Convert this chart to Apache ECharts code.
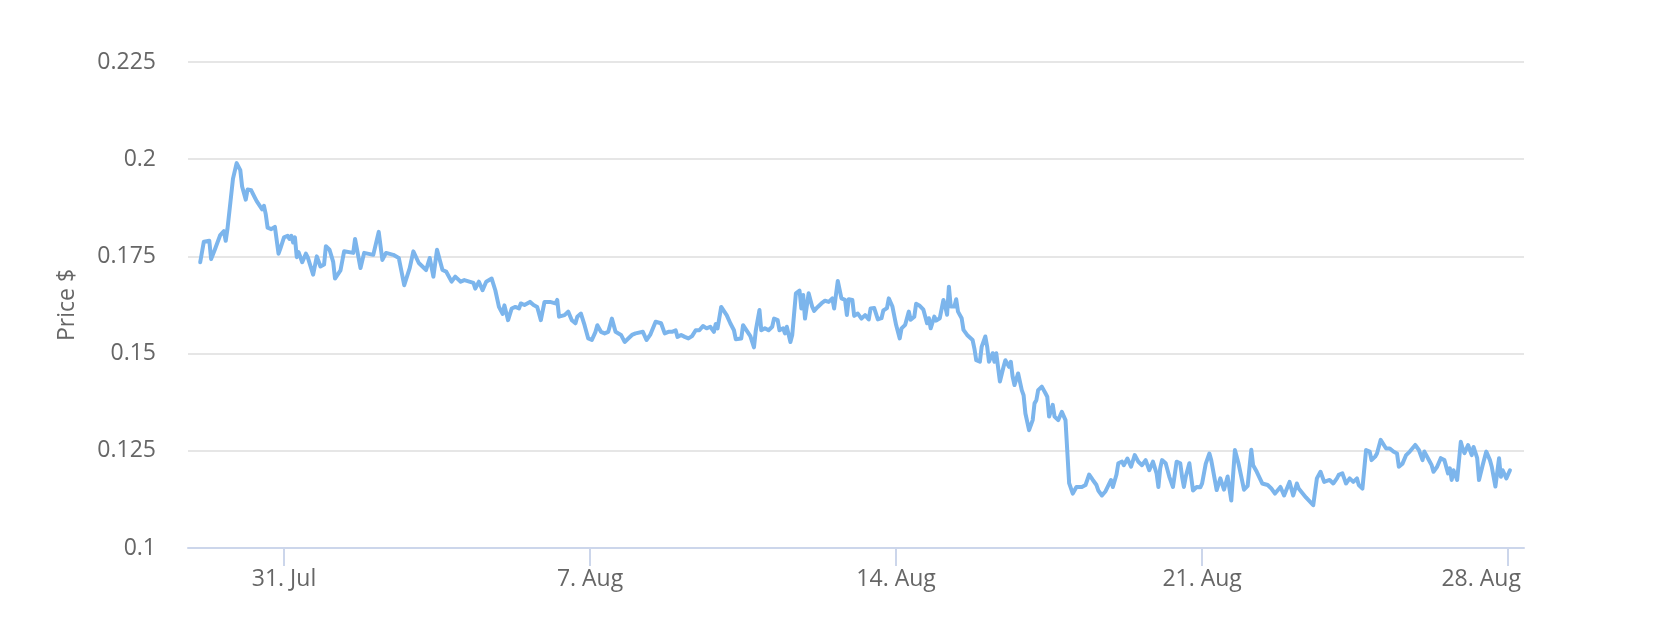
<!DOCTYPE html>
<html lang="en">
<head>
  <meta charset="UTF-8">
  <title>Price $</title>
  <script src="https://cdn.jsdelivr.net/npm/echarts@6/dist/echarts.min.js"></script>
  <style>
    html, body {
      margin: 0;
      padding: 0;
      background: #ffffff;
    }
    #chart {
      width: 1655px;
      height: 636px;
    }
  </style>
</head>
<body>
<div id="chart"></div>
<script>
  // hours after 29 Jul 00:00
  var hours = [
    2, 4, 7, 8, 10, 13, 15, 16, 17, 18, 20, 21, 22, 24, 25, 27, 28, 30, 32, 33, 34, 36, 37, 38, 39, 41, 43, 45, 46,
    48, 50, 51, 52, 53, 54, 55, 56, 58, 60, 61, 64, 66, 68, 70, 71, 73, 75, 76, 79, 81, 86, 87, 90, 92, 97,
    100, 102, 104, 108, 111, 114, 117, 119, 122, 124, 126, 128, 130, 132, 135, 137, 140, 142, 145, 147,
    152, 153, 155, 157, 159, 162, 164, 166, 168, 169, 171, 173, 175, 177, 178, 180, 183, 185, 187, 189,
    191, 194, 197, 198, 199, 202, 204, 206, 208, 209, 211, 213, 215, 217, 219, 220, 222, 224, 226, 228,
    230, 231, 233, 235, 237, 239, 241, 245, 247, 249, 252, 253, 255, 257, 259, 261, 263, 264, 266, 268,
    270, 272, 274, 276, 278, 280, 282, 284, 285, 286, 288, 289, 291, 293, 295, 296, 297, 299, 300, 301,
    304, 306, 307, 309, 310, 312, 314, 316, 317, 319, 320, 322, 323, 324, 326, 327, 329, 331, 332, 333,
    334, 336, 338, 339, 341, 343, 345, 347, 349, 350, 352, 354, 356, 357, 358, 360, 361, 363, 365, 367,
    369, 370, 371, 372, 374, 376, 377, 379, 380, 381, 382, 384, 386, 387, 389, 391, 392, 394, 395, 397,
    399, 401, 402, 403, 405, 406, 408, 410, 411, 412, 413, 414, 416, 417, 418, 419, 420, 421, 422, 423,
    424, 426, 427, 428, 430, 431, 433, 434, 435, 437, 438, 439, 441, 442, 443, 444, 446, 447, 448, 449,
    451, 453, 454, 455, 457, 459, 460, 461, 462, 464, 466, 467, 468, 470, 471, 473, 475, 476, 477, 479,
    481, 483, 486, 488, 490, 492, 494, 495, 497, 499, 502, 503, 505, 506, 508, 509, 511, 513, 515, 517,
    519, 521, 523, 525, 527, 528, 529, 530, 532, 534, 536, 538, 540, 541, 542, 543, 545, 547, 549, 551,
    552, 554, 556, 557, 558, 560, 562, 563, 564, 566, 568, 570, 572, 573, 575, 577, 579, 580, 582, 583,
    585, 588, 590, 592, 595, 597, 600, 602, 604, 605, 609, 613, 615, 617, 619, 622, 624, 626, 627, 629,
    630, 631, 633, 635, 637, 638, 640, 642, 644, 645, 647, 648, 650, 651, 653, 655, 657, 659, 660, 662,
    664, 666, 667, 669, 671, 673, 674, 677, 678, 679, 681, 683, 685, 687, 688, 689, 690, 692, 694, 695,
    696, 698, 700, 701, 703, 704, 706, 708, 710, 711, 713, 715, 716, 717, 719, 721
  ];

  var prices = [
    0.1735, 0.1788, 0.1790, 0.1743, 0.1767, 0.1805, 0.1815, 0.1790, 0.1822, 0.1817, 0.1950, 0.1955, 0.1990, 0.1972, 0.1930, 0.1896, 0.1922, 0.1920, 0.1901, 0.1892, 0.1897, 0.1871, 0.1880, 0.1858, 0.1824, 0.1820, 0.1826, 0.1757, 0.1770,
    0.1799, 0.1803, 0.1795, 0.1803, 0.1786, 0.1799, 0.1748, 0.1761, 0.1735, 0.1757, 0.1748, 0.1703, 0.1750, 0.1724, 0.1729, 0.1776, 0.1767, 0.1736, 0.1693, 0.1714, 0.1763, 0.1759, 0.1795, 0.1720, 0.1759, 0.1754,
    0.1813, 0.1741, 0.1759, 0.1754, 0.1746, 0.1676, 0.1720, 0.1763, 0.1733, 0.1724, 0.1715, 0.1746, 0.1698, 0.1767, 0.1715, 0.1711, 0.1685, 0.1698, 0.1685, 0.1689,
    0.1682, 0.1667, 0.1685, 0.1663, 0.1685, 0.1693, 0.1663, 0.1620, 0.1602, 0.1624, 0.1586, 0.1616, 0.1620, 0.1616, 0.1629, 0.1625, 0.1633, 0.1625, 0.1620, 0.1586,
    0.1633, 0.1633, 0.1629, 0.1638, 0.1595, 0.1599, 0.1608, 0.1586, 0.1578, 0.1595, 0.1603, 0.1573, 0.1539, 0.1535, 0.1556, 0.1573, 0.1556, 0.1552, 0.1556, 0.1590,
    0.1556, 0.1560, 0.1548, 0.1530, 0.1539, 0.1548, 0.1552, 0.1556, 0.1535, 0.1548, 0.1582, 0.1578, 0.1578, 0.1552, 0.1556, 0.1556, 0.1560, 0.1543, 0.1548, 0.1543,
    0.1539, 0.1545, 0.1560, 0.1560, 0.1571, 0.1565, 0.1569, 0.1556, 0.1576, 0.1565, 0.1620, 0.1616, 0.1599, 0.1578, 0.1560, 0.1537, 0.1542, 0.1539, 0.1573, 0.1569,
    0.1545, 0.1516, 0.1560, 0.1612, 0.1560, 0.1565, 0.1560, 0.1569, 0.1590, 0.1586, 0.1560, 0.1565, 0.1552, 0.1569, 0.1530, 0.1548, 0.1655, 0.1662, 0.1616, 0.1651,
    0.1590, 0.1655, 0.1620, 0.1610, 0.1620, 0.1629, 0.1636, 0.1633, 0.1642, 0.1616, 0.1687, 0.1642, 0.1638, 0.1599, 0.1640, 0.1638, 0.1597, 0.1603, 0.1590, 0.1599,
    0.1588, 0.1616, 0.1621, 0.1617, 0.1588, 0.1591, 0.1611, 0.1617, 0.1642, 0.1642, 0.1621, 0.1574, 0.1539, 0.1565, 0.1574, 0.1608, 0.1587, 0.1595, 0.1628, 0.1623,
    0.1613, 0.1578, 0.1591, 0.1565, 0.1595, 0.1585, 0.1591, 0.1638, 0.1621, 0.1600, 0.1672, 0.1621, 0.1621, 0.1640, 0.1608, 0.1604, 0.1591, 0.1561, 0.1565, 0.1548,
    0.1544, 0.1535, 0.1513, 0.1483, 0.1479, 0.1518, 0.1544, 0.1518, 0.1479, 0.1501, 0.1479, 0.1501, 0.1428, 0.1423, 0.1466, 0.1483, 0.1466, 0.1479, 0.1440, 0.1419,
    0.1449, 0.1406, 0.1393, 0.1346, 0.1303, 0.1329, 0.1372, 0.1380, 0.1406, 0.1415, 0.1398, 0.1389, 0.1338, 0.1368, 0.1338, 0.1329, 0.1350, 0.1355, 0.1329, 0.1167,
    0.1140, 0.1157, 0.1157, 0.1162, 0.1189, 0.1175, 0.1162, 0.1148, 0.1135, 0.1146, 0.1175, 0.1157, 0.1189, 0.1218, 0.1222, 0.1213, 0.1230, 0.1209, 0.1239, 0.1222,
    0.1213, 0.1226, 0.1200, 0.1222, 0.1192, 0.1157, 0.1205, 0.1226, 0.1218, 0.1183, 0.1157, 0.1222, 0.1218, 0.1183, 0.1157, 0.1183, 0.1218, 0.1148, 0.1157, 0.1156,
    0.1166, 0.1217, 0.1243, 0.1226, 0.1228, 0.1149, 0.1179, 0.1175, 0.1150, 0.1184, 0.1122, 0.1252, 0.1217, 0.1213, 0.1150, 0.1160, 0.1253, 0.1213, 0.1196, 0.1196,
    0.1166, 0.1162, 0.1153, 0.1140, 0.1157, 0.1135, 0.1170, 0.1135, 0.1166, 0.1153, 0.1130, 0.1110, 0.1179, 0.1196, 0.1170, 0.1175, 0.1166, 0.1179, 0.1188, 0.1192,
    0.1179, 0.1166, 0.1179, 0.1170, 0.1179, 0.1162, 0.1153, 0.1252, 0.1248, 0.1226, 0.1235, 0.1243, 0.1278, 0.1274, 0.1256, 0.1256, 0.1248, 0.1243, 0.1209, 0.1217,
    0.1239, 0.1248, 0.1244, 0.1265, 0.1252, 0.1226, 0.1248, 0.1222, 0.1213, 0.1196, 0.1209, 0.1231, 0.1226, 0.1192, 0.1205, 0.1175, 0.1200, 0.1175, 0.1273, 0.1256,
    0.1244, 0.1265, 0.1239, 0.1260, 0.1231, 0.1175, 0.1213, 0.1248, 0.1226, 0.1209, 0.1158, 0.1231, 0.1183, 0.1200, 0.1179, 0.1200
  ];

  // x axis ticks (hours after 29 Jul 00:00) and their labels
  var tickHours = [48, 216, 384, 552, 720];
  var tickLabels = ['31. Jul', '7. Aug', '14. Aug', '21. Aug', '28. Aug'];

  var textColor = '#666666';
  var fontFamily = '"Open Sans", "DejaVu Sans", sans-serif';

  var seriesData = hours.map(function (h, i) {
    return [h, prices[i]];
  });

  var myChart = echarts.init(document.getElementById('chart'), null, { renderer: 'canvas' });

  myChart.setOption({
    animation: false,
    backgroundColor: '#ffffff',
    textStyle: { fontFamily: fontFamily },
    grid: {
      left: 188,
      right: 131,
      top: 62,
      bottom: 88,
      containLabel: false,
      outerBoundsMode: 'none'
    },
    xAxis: {
      type: 'value',
      min: -4.7,
      max: 728.7,
      axisLine: {
        show: true,
        lineStyle: { color: '#ccd6eb', width: 2 }
      },
      axisTick: {
        show: true,
        customValues: tickHours,
        length: 18,
        lineStyle: { color: '#ccd6eb', width: 2 }
      },
      axisLabel: {
        customValues: tickHours,
        margin: 20,
        color: textColor,
        fontSize: 23,
        fontFamily: fontFamily,
        formatter: function (v) {
          var i = tickHours.indexOf(Math.round(v));
          if (i < 0) return '';
          // last label is pushed left so it stays inside the plot
          return i === tickLabels.length - 1 ? '{last|' + tickLabels[i] + '}' : tickLabels[i];
        },
        rich: {
          last: {
            color: textColor,
            fontSize: 23,
            fontFamily: fontFamily,
            padding: [0, 54, 0, 0]
          }
        }
      },
      splitLine: { show: false }
    },
    yAxis: {
      type: 'value',
      min: 0.1,
      max: 0.225,
      interval: 0.025,
      name: 'Price $',
      nameLocation: 'middle',
      nameGap: 109,
      nameTextStyle: {
        color: textColor,
        fontSize: 23,
        fontFamily: fontFamily
      },
      axisLine: { show: false },
      axisTick: { show: false },
      axisLabel: {
        margin: 32,
        color: textColor,
        fontSize: 23,
        fontFamily: fontFamily,
        formatter: function (v) {
          return String(+v.toFixed(3));
        }
      },
      splitLine: {
        show: true,
        lineStyle: { color: '#e6e6e6', width: 2 }
      }
    },
    series: [{
      type: 'line',
      data: seriesData,
      showSymbol: false,
      symbol: 'none',
      silent: true,
      lineStyle: {
        color: '#7cb5ec',
        width: 4,
        join: 'round',
        cap: 'round'
      },
      itemStyle: { color: '#7cb5ec' }
    }]
  });
</script>
</body>
</html>
